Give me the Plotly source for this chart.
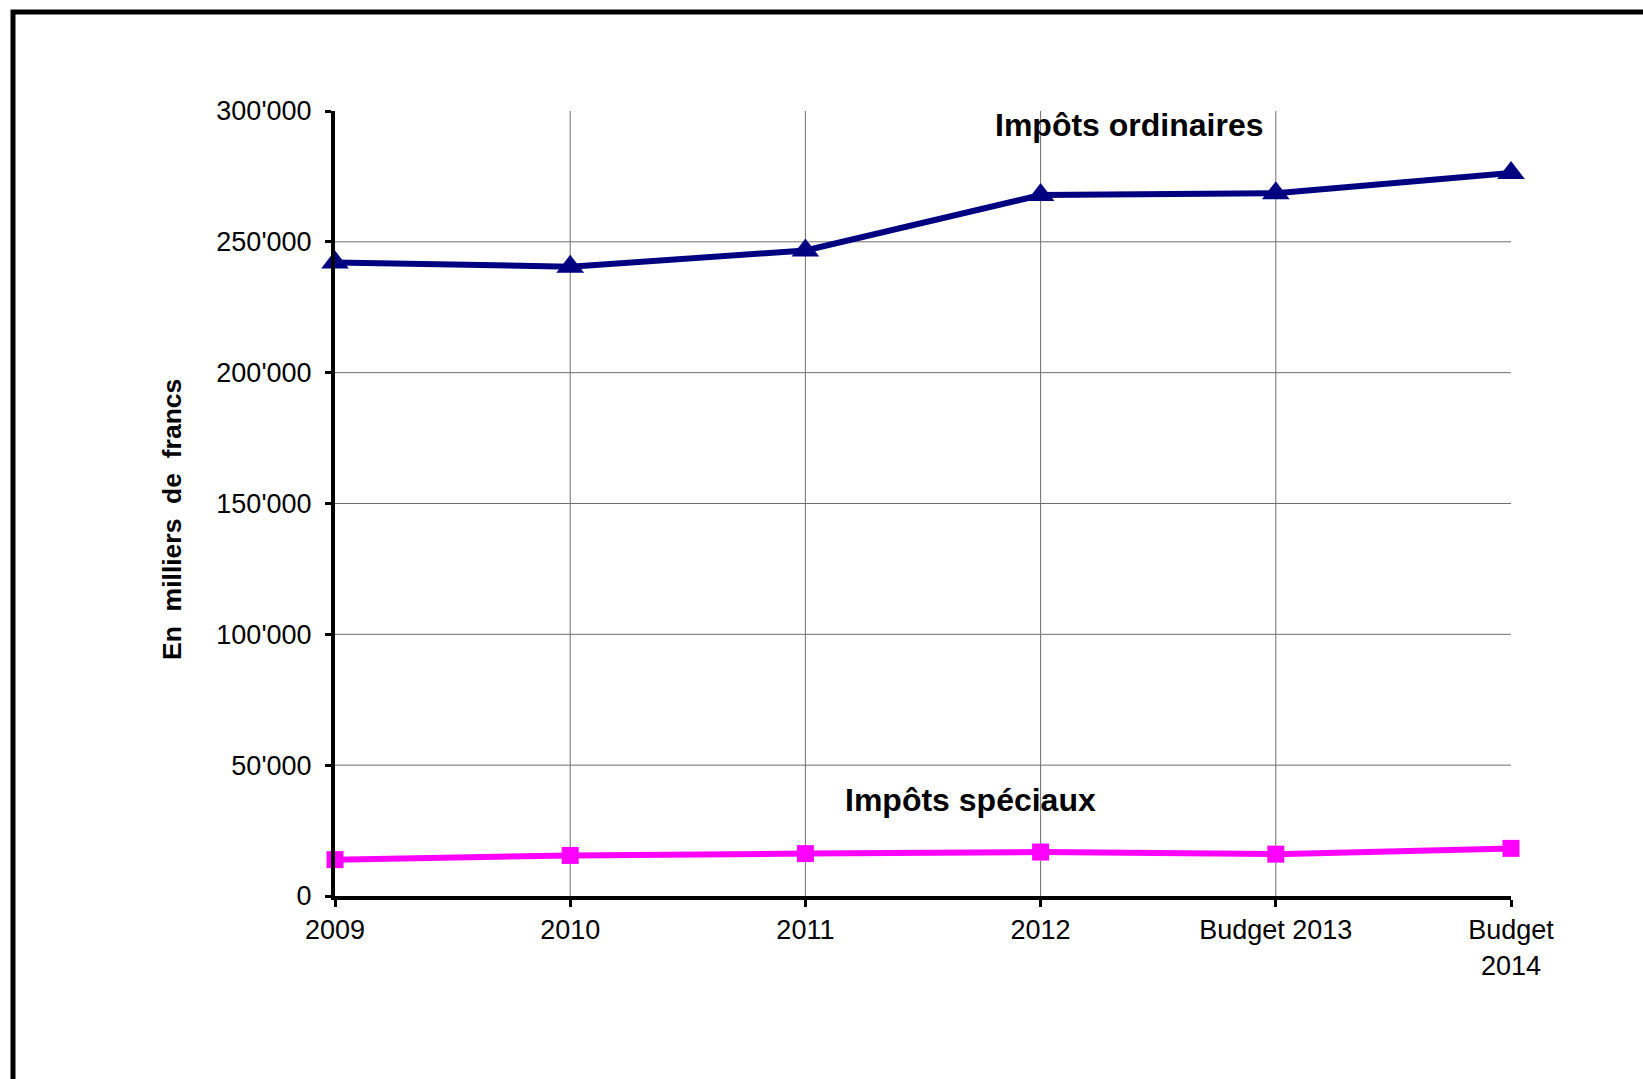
import plotly.graph_objects as go

# Categories and series (en milliers de francs)
categories = ["2009", "2010", "2011", "2012", "Budget 2013", "Budget<br>2014"]
impots_ordinaires = [242100, 240500, 246700, 267900, 268600, 276300]
impots_speciaux = [13900, 15500, 16200, 16800, 16000, 18200]

y_tick_values = [0, 50000, 100000, 150000, 200000, 250000, 300000]
y_tick_labels = ["0", "50'000", "100'000", "150'000", "200'000", "250'000", "300'000"]

# Page / plot-area geometry (pixels)
W, H = 1643, 1079
ML, MR, MT, MB = 335, 132, 111, 183
PW, PH = W - ML - MR, H - MT - MB


def paper_x(px):
    return (px - ML) / PW


def paper_y(py):
    return (H - MB - py) / PH


FONT = "Liberation Sans, Arial, sans-serif"
GRID = "#6e6e6e"

fig = go.Figure()

fig.add_trace(go.Scatter(
    x=categories, y=impots_ordinaires, mode="lines+markers",
    line=dict(color="#000080", width=6),
    marker=dict(symbol="triangle-up", size=24, color="#000080"),
    cliponaxis=False, showlegend=False,
))
fig.add_trace(go.Scatter(
    x=categories, y=impots_speciaux, mode="lines+markers",
    line=dict(color="#FF00FF", width=6),
    marker=dict(symbol="square", size=17, color="#FF00FF"),
    cliponaxis=False, showlegend=False,
))

shapes = []
# horizontal gridlines (inner ticks only)
for v in y_tick_values[1:-1]:
    shapes.append(dict(type="line", xref="x", yref="y", x0=0, x1=len(categories) - 1,
                       y0=v, y1=v, line=dict(color=GRID, width=1), layer="below"))
# vertical gridlines (inner categories only)
for i in range(1, len(categories) - 1):
    shapes.append(dict(type="line", xref="x", yref="y", x0=i, x1=i,
                       y0=y_tick_values[0], y1=y_tick_values[-1],
                       line=dict(color=GRID, width=1), layer="below"))
# outer frame
shapes.append(dict(type="rect", xref="paper", yref="paper",
                   x0=paper_x(13), x1=paper_x(1700), y0=paper_y(1140), y1=paper_y(12),
                   line=dict(color="black", width=5), fillcolor="rgba(0,0,0,0)"))

annotations = [
    dict(text="<b>Impôts ordinaires</b>", x=3.376, y=294600, xref="x", yref="y",
         showarrow=False, xanchor="center", yanchor="middle",
         font=dict(family=FONT, size=32, color="black")),
    dict(text="<b>Impôts spéciaux</b>", x=2.70, y=36700, xref="x", yref="y",
         showarrow=False, xanchor="center", yanchor="middle",
         font=dict(family=FONT, size=32, color="black")),
    dict(text="<b>En\u00a0\u00a0milliers\u00a0\u00a0de\u00a0\u00a0francs</b>",
         x=paper_x(172), y=paper_y(520), xref="paper", yref="paper",
         showarrow=False, textangle=-90, xanchor="center", yanchor="middle",
         font=dict(family=FONT, size=26.5, color="black")),
]

fig.update_layout(
    width=W, height=H,
    margin=dict(l=ML, r=MR, t=MT, b=MB, pad=0),
    paper_bgcolor="white", plot_bgcolor="white",
    font=dict(family=FONT, size=27, color="black"),
    shapes=shapes, annotations=annotations,
    hovermode=False,
)
fig.update_xaxes(
    type="category", range=[0, len(categories) - 1],
    showgrid=False, zeroline=False,
    showline=True, linecolor="black", linewidth=4,
    ticks="outside", ticklen=7, tickwidth=3, tickcolor="black",
    tickfont=dict(family=FONT, size=27, color="black"),
)
fig.update_yaxes(
    range=[y_tick_values[0], y_tick_values[-1]],
    tickmode="array", tickvals=y_tick_values, ticktext=y_tick_labels,
    showgrid=False, zeroline=False,
    showline=True, linecolor="black", linewidth=4,
    ticks="outside", ticklen=6, tickwidth=3, tickcolor="black",
    ticklabelstandoff=8,
    tickfont=dict(family=FONT, size=27, color="black"),
)

fig.write_html("out.html")
